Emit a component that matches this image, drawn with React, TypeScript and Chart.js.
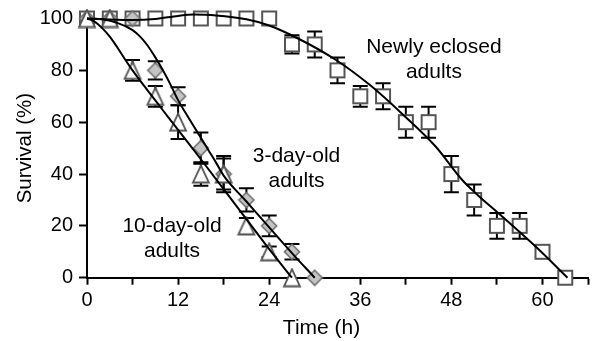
import React, { useEffect, useRef } from "react";
import { Chart, registerables } from "chart.js";

Chart.register(...registerables);

const FONT = '"Liberation Sans", Arial, Helvetica, sans-serif';

// Newly eclosed adults (squares)
const timeNewly = [0, 3, 6, 9, 12, 15, 18, 21, 24, 27, 30, 33, 36, 39, 42, 45, 48, 51, 54, 57, 60, 63];
const survNewly = [100, 100, 100, 100, 100, 100, 100, 100, 100, 90, 90, 80, 70, 70, 60, 60, 40, 30, 20, 20, 10, 0];
const errNewly = [0, 0, 0, 0, 0, 0, 0, 0, 0, 3.5, 5, 5, 4, 5, 6, 6, 7, 6, 5, 5, 2, 0];

// 3-day-old adults (diamonds)
const time3 = [0, 3, 6, 9, 12, 15, 18, 21, 24, 27, 30];
const surv3 = [100, 100, 100, 80, 70, 50, 40, 30, 20, 10, 0];
const err3 = [0, 0, 0, 3.5, 3.5, 6, 7, 4.5, 4, 3, 0];

// 10-day-old adults (triangles)
const time10 = [0, 3, 6, 9, 12, 15, 18, 21, 24, 27];
const surv10 = [100, 100, 80, 70, 60, 40, 40, 20, 10, 0];
const err10 = [0, 0, 4, 4, 6.5, 4.5, 6, 3, 2, 0];

// Fitted curves
const curveNewlyX = [0, 3, 6, 9, 12, 14, 17, 21, 24, 28, 32.8, 37.2, 41.6, 45.9, 49.4, 51.2, 54.7, 59.1, 63.3];
const curveNewlyY = [100, 99.6, 99.4, 99.8, 101, 101.5, 101.2, 99.7, 97.3, 92, 84, 74.5, 63, 50.7, 37.8, 32.6, 23.6, 12, 0];
const curve3X = [0, 2, 4, 6, 7, 8, 9, 10, 11, 12, 13, 14, 15, 16, 17, 18, 21, 24, 27, 30];
const curve3Y = [100, 99.7, 98.3, 95.5, 93, 89.5, 85, 80, 74.5, 68.5, 63.5, 58.7, 54, 49.2, 44.4, 39.4, 29.4, 19.4, 9.5, 0];
const curve10X = [0, 1, 2, 3, 4, 5, 6, 8, 10, 12, 15, 18, 21, 24, 27];
const curve10Y = [100, 98.8, 96.3, 93, 88.8, 84.3, 80, 72.2, 64.6, 57, 45.7, 34.2, 22.6, 11, 0];

const xTickLabels = [0, 12, 24, 36, 48, 60];
const yTickLabels = [0, 20, 40, 60, 80, 100];

const annotations = [
  { lines: ["Newly eclosed", "adults"], x: 45.7, y: 86.6 },
  { lines: ["3-day-old", "adults"], x: 27.6, y: 44.8 },
  { lines: ["10-day-old", "adults"], x: 11.2, y: 17.7 },
];

function pts(xs: number[], ys: number[]) {
  return xs.map((x, i) => ({ x, y: ys[i] }));
}

function makeSquare() {
  const c = document.createElement("canvas");
  c.width = 18; c.height = 18;
  const g = c.getContext("2d")!;
  g.fillStyle = "#ffffff";
  g.strokeStyle = "#555555";
  g.lineWidth = 2;
  g.beginPath();
  g.rect(2, 2, 14, 14);
  g.fill();
  g.stroke();
  return c;
}

function makeTriangle() {
  const c = document.createElement("canvas");
  c.width = 20; c.height = 20;
  const g = c.getContext("2d")!;
  g.fillStyle = "#ffffff";
  g.strokeStyle = "#555555";
  g.lineWidth = 1.8;
  g.lineJoin = "miter";
  g.beginPath();
  g.moveTo(10, 1.5);
  g.lineTo(18, 18.5);
  g.lineTo(2, 18.5);
  g.closePath();
  g.fill();
  g.stroke();
  return c;
}

function makeDiamond() {
  const c = document.createElement("canvas");
  c.width = 18; c.height = 18;
  const g = c.getContext("2d")!;
  g.fillStyle = "#c4c4c4";
  g.strokeStyle = "#707070";
  g.lineWidth = 1.6;
  g.beginPath();
  g.moveTo(9, 1.5);
  g.lineTo(16.5, 9);
  g.lineTo(9, 16.5);
  g.lineTo(1.5, 9);
  g.closePath();
  g.fill();
  g.stroke();
  return c;
}

const errorBarPlugin = {
  id: "errorBars",
  beforeDatasetsDraw(chart: any) {
    const ctx = chart.ctx;
    const xs = chart.scales.x;
    const ys = chart.scales.y;
    ctx.save();
    ctx.strokeStyle = "#000000";
    ctx.lineWidth = 2;
    chart.data.datasets.forEach((ds: any) => {
      if (!ds.errors) return;
      ds.data.forEach((p: any, i: number) => {
        const e = ds.errors[i];
        if (!e) return;
        const px = xs.getPixelForValue(p.x);
        const top = ys.getPixelForValue(p.y + e);
        const bot = ys.getPixelForValue(p.y - e);
        const hw = 7.5;
        ctx.beginPath();
        ctx.moveTo(px, top);
        ctx.lineTo(px, bot);
        ctx.moveTo(px - hw, top);
        ctx.lineTo(px + hw, top);
        ctx.moveTo(px - hw, bot);
        ctx.lineTo(px + hw, bot);
        ctx.stroke();
      });
    });
    ctx.restore();
  },
};

const textPlugin = {
  id: "texts",
  afterDraw(chart: any) {
    const ctx = chart.ctx;
    const xs = chart.scales.x;
    const ys = chart.scales.y;
    const area = chart.chartArea;
    ctx.save();
    ctx.fillStyle = "#000000";
    ctx.font = `21px ${FONT}`;
    ctx.textAlign = "center";
    ctx.textBaseline = "alphabetic";
    annotations.forEach((a) => {
      const px = xs.getPixelForValue(a.x);
      const py = ys.getPixelForValue(a.y);
      a.lines.forEach((t, k) => ctx.fillText(t, px, py + k * 25));
    });
    // x axis title
    ctx.font = `21px ${FONT}`;
    ctx.fillText("Time (h)", xs.getPixelForValue(30.9), area.bottom + 56.6);
    // y axis title
    ctx.font = `20.5px ${FONT}`;
    ctx.translate(31, (area.top + area.bottom) / 2);
    ctx.rotate(-Math.PI / 2);
    ctx.fillText("Survival (%)", 0, 0);
    ctx.restore();
  },
};

export default function App() {
  const ref = useRef<HTMLCanvasElement | null>(null);
  useEffect(() => {
    if (!ref.current) return;
    const square = makeSquare();
    const triangle = makeTriangle();
    const diamond = makeDiamond();
    const markerBase = { showLine: false, pointRadius: 8, clip: false as any };
    const curveBase = {
      showLine: true,
      pointRadius: 0,
      borderColor: "#000000",
      borderWidth: 2,
      cubicInterpolationMode: "monotone" as const,
      fill: false,
      clip: false as any,
      order: 0,
    };
    const chart = new Chart(ref.current, {
      type: "scatter",
      data: {
        datasets: [
          { ...curveBase, data: pts(curveNewlyX, curveNewlyY) },
          { ...curveBase, data: pts(curve3X, curve3Y) },
          { ...curveBase, data: pts(curve10X, curve10Y) },
          { ...markerBase, data: pts(time10, surv10), pointStyle: triangle, errors: err10, order: 1 } as any,
          { ...markerBase, data: pts(time3, surv3), pointStyle: diamond, errors: err3, order: 2 } as any,
          { ...markerBase, data: pts(timeNewly, survNewly), pointStyle: square, errors: errNewly, order: 3 } as any,
        ],
      },
      options: {
        animation: false,
        responsive: false,
        devicePixelRatio: 1,
        events: [],
        layout: { padding: { left: 0, top: 18.5, right: 6.5, bottom: 0 } },
        plugins: { legend: { display: false }, tooltip: { enabled: false }, title: { display: false } },
        scales: {
          x: {
            type: "linear",
            min: 0,
            max: 66,
            afterFit: (s: any) => { s.height = 63.3; },
            grid: { display: true, drawOnChartArea: false, drawTicks: true, tickLength: 7, tickColor: "#000", tickWidth: 2 },
            border: { display: true, color: "#000", width: 2 },
            ticks: {
              stepSize: 6,
              autoSkip: false,
              maxRotation: 0,
              padding: 4,
              color: "#000",
              font: { family: FONT, size: 20 },
              callback: (v: any) => (xTickLabels.includes(Number(v)) ? String(v) : ""),
            },
          },
          y: {
            type: "linear",
            min: 0,
            max: 100,
            afterFit: (s: any) => { s.width = 87; },
            grid: { display: true, drawOnChartArea: false, drawTicks: true, tickLength: 8, tickColor: "#000", tickWidth: 2 },
            border: { display: true, color: "#000", width: 2 },
            ticks: {
              stepSize: 20,
              padding: 6,
              color: "#000",
              font: { family: FONT, size: 20 },
              callback: (v: any) => (yTickLabels.includes(Number(v)) ? String(v) : ""),
            },
          },
        },
      },
      plugins: [errorBarPlugin, textPlugin],
    });
    return () => chart.destroy();
  }, []);
  return (
    <div style={{ position: "fixed", left: 0, top: 0, width: 597, height: 341, background: "#fff" }}>
      <canvas ref={ref} width={597} height={341} style={{ width: 597, height: 341, display: "block" }} />
    </div>
  );
}
